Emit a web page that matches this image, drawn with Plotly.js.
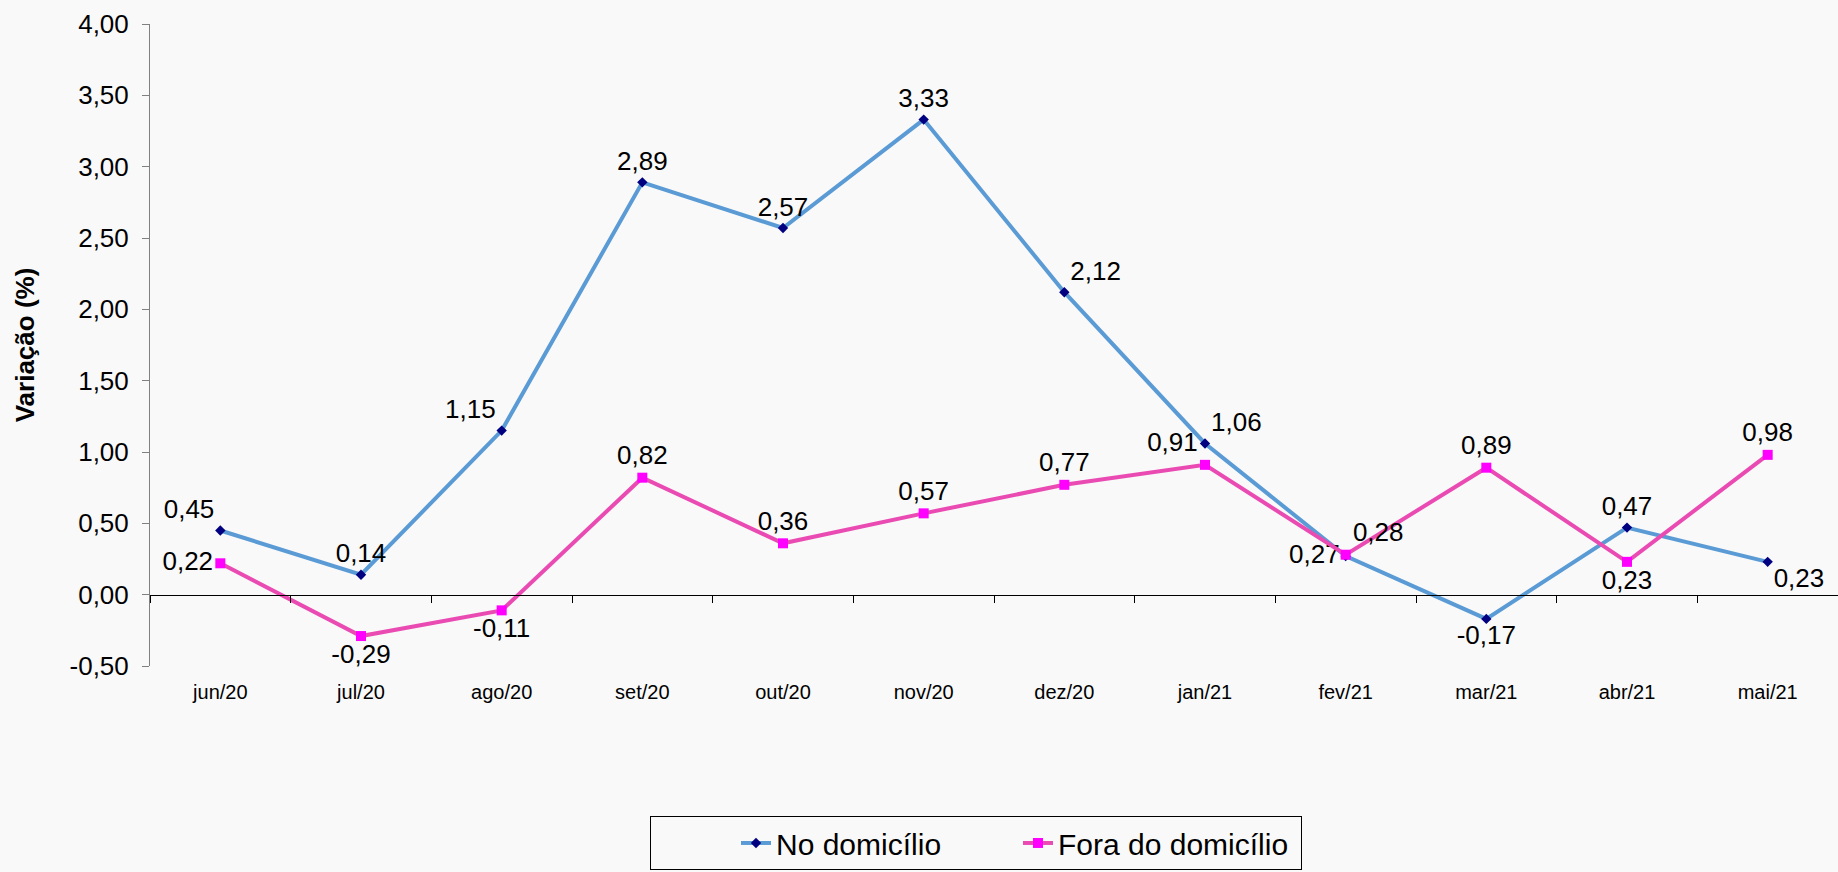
<!DOCTYPE html>
<html>
<head>
<meta charset="utf-8">
<script src="https://cdn.plot.ly/plotly-3.0.1.min.js"></script>
<style>
html,body{margin:0;padding:0;background:#f9f9f9;}
#chart{width:1838px;height:872px;}
</style>
</head>
<body>
<div id="chart"></div>
<script>
const months = ['jun/20','jul/20','ago/20','set/20','out/20','nov/20','dez/20','jan/21','fev/21','mar/21','abr/21','mai/21'];
const noDomicilio = [0.45, 0.14, 1.15, 2.89, 2.57, 3.33, 2.12, 1.06, 0.27, -0.17, 0.47, 0.23];
const foraDomicilio = [0.22, -0.29, -0.11, 0.82, 0.36, 0.57, 0.77, 0.91, 0.28, 0.89, 0.23, 0.98];
const seriesNames = ['No domicílio', 'Fora do domicílio'];
const yTickVals = [-0.5, 0, 0.5, 1, 1.5, 2, 2.5, 3, 3.5, 4];
const yTickText = ['-0,50','0,00','0,50','1,00','1,50','2,00','2,50','3,00','3,50','4,00'];

const posNo = ['top left','top center','top left','top center','top center','top center','top right','top right','middle left','bottom center','top center','bottom right'];
const posFora = ['middle left','bottom center','bottom center','top center','top center','top center','top center','top left','top right','top center','bottom center','top center'];

const fmt = v => v.toFixed(2).replace('.', ',');
const FONT = 'Liberation Sans, Arial, sans-serif';

const traces = [
  {
    x: months, y: noDomicilio, name: seriesNames[0], type: 'scatter', mode: 'lines+markers+text',
    line: {color: '#5b9bd5', width: 4},
    marker: {symbol: 'diamond', size: 8, color: '#000080'},
    text: noDomicilio.map(fmt), textposition: posNo,
    textfont: {family: FONT, size: 26, color: '#000'},
    cliponaxis: false, hoverinfo: 'x+y'
  },
  {
    x: months, y: foraDomicilio, name: seriesNames[1], type: 'scatter', mode: 'lines+markers+text',
    xaxis: 'x2',
    line: {color: '#ea4bb3', width: 4},
    marker: {symbol: 'square', size: 10, color: '#ff00ff'},
    text: foraDomicilio.map(fmt), textposition: posFora,
    textfont: {family: FONT, size: 26, color: '#000'},
    cliponaxis: false, hoverinfo: 'x+y'
  }
];

const layout = {
  width: 1838, height: 872,
  paper_bgcolor: '#f9f9f9', plot_bgcolor: '#f9f9f9',
  margin: {l: 150, r: 0, t: 24, b: 206},
  separators: ',.',
  font: {family: FONT, color: '#000'},
  showlegend: true,
  legend: {
    orientation: 'h', x: 0.2962, xanchor: 'left', y: -0.2336, yanchor: 'top',
    bordercolor: '#000', borderwidth: 1, bgcolor: 'rgba(0,0,0,0)',
    font: {family: FONT, size: 30, color: '#000'},
    entrywidth: 237, entrywidthmode: 'pixels',
    title: {text: '\u00a0\u00a0\u00a0\u00a0\u00a0\u00a0\u00a0\u00a0\u00a0', side: 'left', font: {family: FONT, size: 30}}
  },
  xaxis: {
    type: 'category', categoryarray: months, range: [-0.5, 11.5],
    showline: false, ticks: '', showgrid: false, zeroline: false,
    tickfont: {family: FONT, size: 20, color: '#000'},
    ticklabelstandoff: 12, fixedrange: true
  },
  xaxis2: {
    type: 'category', categoryarray: months, range: [-0.5, 11.5],
    overlaying: 'x', anchor: 'free', position: 0.5/4.5,
    showline: true, linecolor: '#000', linewidth: 1,
    ticks: 'outside', tickson: 'boundaries', ticklen: 7, tickcolor: '#000', tickwidth: 1,
    showticklabels: false, showgrid: false, zeroline: false
  },
  yaxis: {
    range: [-0.5, 4], tickmode: 'array', tickvals: yTickVals, ticktext: yTickText,
    showline: true, linecolor: '#808080', linewidth: 1,
    ticks: 'outside', ticklen: 7, tickcolor: '#808080',
    showgrid: false, zeroline: false,
    tickfont: {family: FONT, size: 26, color: '#000'},
    ticklabelstandoff: 8,
    title: {text: 'Variação (%)', font: {family: FONT, size: 26, color: '#000', weight: 'bold'}, standoff: 27}
  }
};

Plotly.newPlot('chart', traces, layout, {displayModeBar: false, staticPlot: true});
</script>
</body>
</html>
